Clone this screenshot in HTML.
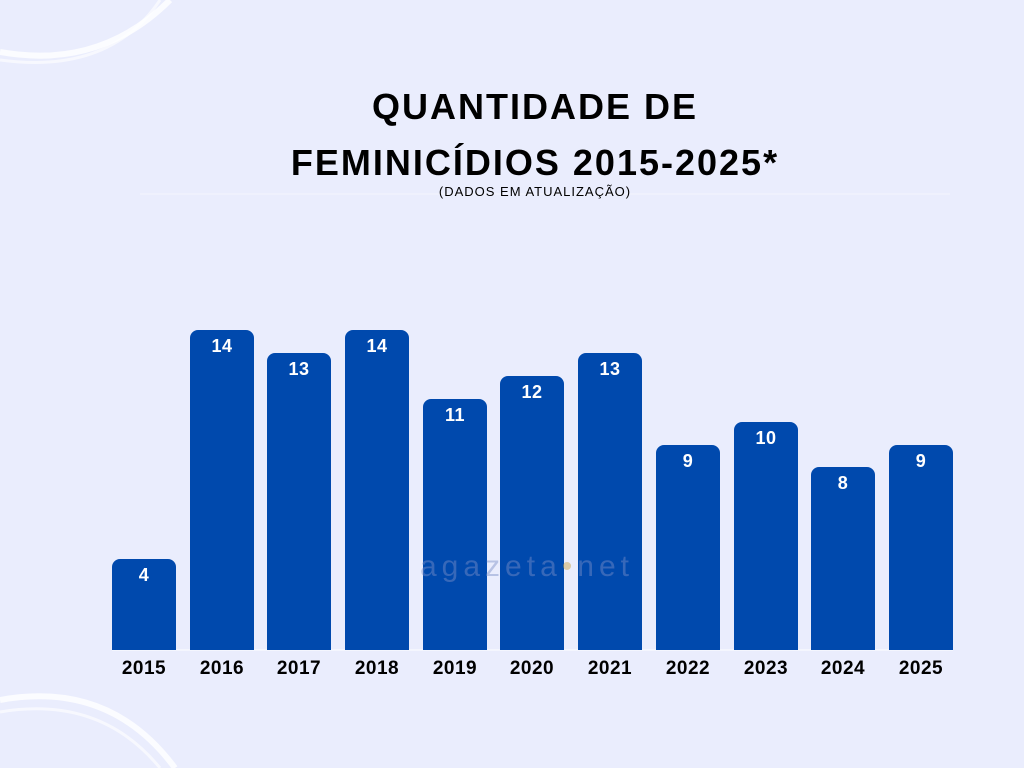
<!DOCTYPE html>
<html><head><style>
html,body{margin:0;padding:0}
body{width:1024px;height:768px;background:#eaedfd;position:relative;overflow:hidden;font-family:"Liberation Sans",sans-serif}
.t{position:absolute;left:0;width:1070px;text-align:center;font-weight:bold;color:#000;font-size:36px;letter-spacing:2px}
.b{position:absolute;width:64px;background:#0049ad;border-radius:8px 8px 0 0;bottom:118px}
.v{position:absolute;width:64px;text-align:center;color:#fff;font-weight:bold;font-size:18px;letter-spacing:0.5px}
.y{position:absolute;top:658px;width:80px;text-align:center;font-weight:bold;font-size:19px;color:#000;letter-spacing:0.5px}
</style></head><body>
<svg style="position:absolute;left:0;top:0" width="1024" height="768">
<path d="M0 52 Q100 70 170 0" fill="none" stroke="#fff" stroke-width="6" opacity="0.8"/>
<path d="M0 60 Q110 75 160 0" fill="none" stroke="#fff" stroke-width="3" opacity="0.6"/>
<path d="M0 700 Q110 680 175 768" fill="none" stroke="#fff" stroke-width="6" opacity="0.8"/>
<path d="M0 712 Q100 695 160 768" fill="none" stroke="#fff" stroke-width="3" opacity="0.6"/>
<line x1="140" y1="194" x2="950" y2="194" stroke="#f4f5fd" stroke-width="1"/>
<line x1="112" y1="650" x2="953" y2="650" stroke="#ffffff" stroke-width="1"/>
</svg>
<div class="t" style="top:86px">QUANTIDADE DE</div>
<div class="t" style="top:142px">FEMINICÍDIOS 2015-2025*</div>
<div style="position:absolute;top:184px;left:0;width:1070px;text-align:center;font-size:13px;color:#000;letter-spacing:1px">(DADOS EM ATUALIZAÇÃO)</div>
<div class="b" style="left:112px;height:91px"></div><div class="v" style="left:112px;top:565px">4</div>
<div class="b" style="left:190px;height:320px"></div><div class="v" style="left:190px;top:336px">14</div>
<div class="b" style="left:267px;height:297px"></div><div class="v" style="left:267px;top:359px">13</div>
<div class="b" style="left:345px;height:320px"></div><div class="v" style="left:345px;top:336px">14</div>
<div class="b" style="left:423px;height:251px"></div><div class="v" style="left:423px;top:405px">11</div>
<div class="b" style="left:500px;height:274px"></div><div class="v" style="left:500px;top:382px">12</div>
<div class="b" style="left:578px;height:297px"></div><div class="v" style="left:578px;top:359px">13</div>
<div class="b" style="left:656px;height:205px"></div><div class="v" style="left:656px;top:451px">9</div>
<div class="b" style="left:734px;height:228px"></div><div class="v" style="left:734px;top:428px">10</div>
<div class="b" style="left:811px;height:183px"></div><div class="v" style="left:811px;top:473px">8</div>
<div class="b" style="left:889px;height:205px"></div><div class="v" style="left:889px;top:451px">9</div>
<div style="position:absolute;left:420px;top:550px;font-size:30px;color:#7a8fc8;opacity:0.45;letter-spacing:5px">agazeta<span style="color:#c9a040">•</span>net</div>
<div class="y" style="left:104px">2015</div>
<div class="y" style="left:182px">2016</div>
<div class="y" style="left:259px">2017</div>
<div class="y" style="left:337px">2018</div>
<div class="y" style="left:415px">2019</div>
<div class="y" style="left:492px">2020</div>
<div class="y" style="left:570px">2021</div>
<div class="y" style="left:648px">2022</div>
<div class="y" style="left:726px">2023</div>
<div class="y" style="left:803px">2024</div>
<div class="y" style="left:881px">2025</div>
</body></html>
